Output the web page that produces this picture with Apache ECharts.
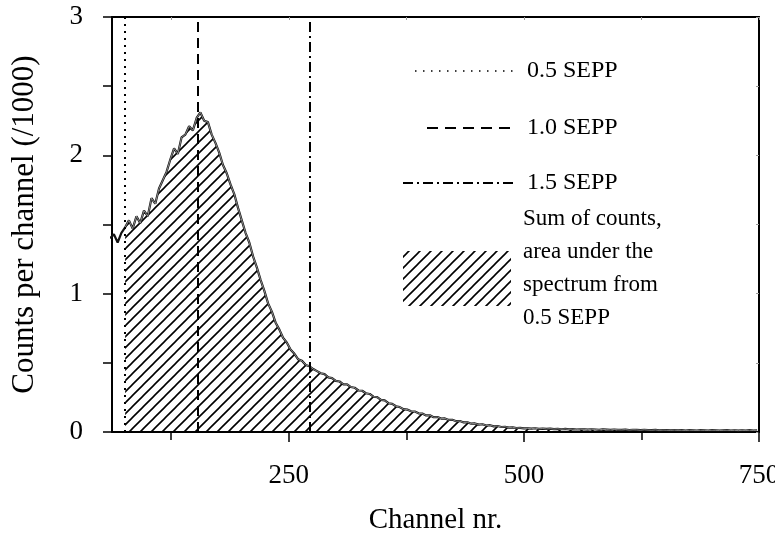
<!DOCTYPE html>
<html>
<head>
<meta charset="utf-8">
<script src="https://cdn.jsdelivr.net/npm/echarts@6/dist/echarts.min.js"></script>
<style>
  html, body { margin: 0; padding: 0; background: #fff; }
  #chart { width: 775px; height: 539px; }
</style>
</head>
<body>
<div id="chart"></div>
<script>
// spectrum, sampled every 4 channels starting at channel 60
const channelStart = 60
const channelStep = 4
const counts = [
  1.40, 1.43, 1.37, 1.44, 1.48, 1.53, 1.47, 1.56, 1.51, 1.60,
  1.56, 1.69, 1.65, 1.76, 1.82, 1.88, 1.97, 2.05, 2.01, 2.13,
  2.15, 2.21, 2.18, 2.27, 2.31, 2.25, 2.24, 2.15, 2.09, 2.02,
  1.93, 1.87, 1.79, 1.72, 1.62, 1.53, 1.44, 1.37, 1.27, 1.19,
  1.10, 1.02, 0.93, 0.87, 0.79, 0.74, 0.68, 0.645, 0.595, 0.565,
  0.525, 0.515, 0.485, 0.475, 0.455, 0.44, 0.425, 0.418, 0.395, 0.39,
  0.37, 0.365, 0.345, 0.345, 0.325, 0.32, 0.30, 0.298, 0.28, 0.275,
  0.255, 0.252, 0.232, 0.228, 0.208, 0.203, 0.186, 0.18, 0.165, 0.162,
  0.15, 0.148, 0.135, 0.133, 0.12, 0.121, 0.107, 0.108, 0.097, 0.098,
  0.087, 0.088, 0.078, 0.079, 0.069, 0.07, 0.06, 0.062, 0.053, 0.056,
  0.047, 0.049, 0.041, 0.043, 0.036, 0.038, 0.032, 0.034, 0.029, 0.03,
  0.026,
  0.026, 0.024, 0.027, 0.023, 0.025, 0.022, 0.024, 0.021, 0.023, 0.02,
  0.022, 0.019, 0.021, 0.018, 0.02, 0.019, 0.017, 0.02, 0.018, 0.016,
  0.019, 0.017, 0.015, 0.018, 0.016, 0.015, 0.017, 0.014, 0.016, 0.015,
  0.013, 0.016, 0.014, 0.013, 0.015, 0.012, 0.014, 0.013, 0.012, 0.014,
  0.012, 0.013, 0.011, 0.013, 0.012, 0.011, 0.013, 0.012, 0.011, 0.013,
  0.012, 0.011, 0.012, 0.013, 0.011, 0.012, 0.010, 0.012, 0.011, 0.013,
  0.011, 0.012
]
const channels = counts.map((v, i) => channelStart + i * channelStep)

// SEPP positions (channel nr.)
const seppNames = ['0.5 SEPP', '1.0 SEPP', '1.5 SEPP']
const seppChannels = [76, 153, 272]
const seppDash = [[2, 5], [10, 6], [10, 4, 2, 4]]

const xMajorTicks = [250, 500, 750]
const xMinorTicks = [125, 375, 625]
const areaText = 'Sum of counts,\narea under the\nspectrum from\n0.5 SEPP'

const FONT = 'Liberation Serif'

function hatch () {
  const c = document.createElement('canvas')
  c.width = 11
  c.height = 11
  const g = c.getContext('2d')
  g.strokeStyle = '#000'
  g.lineWidth = 1.6
  g.beginPath()
  g.moveTo(0, 11); g.lineTo(11, 0)
  g.moveTo(-2, 2); g.lineTo(2, -2)
  g.moveTo(9, 13); g.lineTo(13, 9)
  g.stroke()
  return c
}
const pattern = { image: hatch(), repeat: 'repeat' }

const allData = channels.map((c, i) => [c, counts[i]])
const fillData = allData.filter(d => d[0] >= seppChannels[0])

const chart = echarts.init(document.getElementById('chart'))

// legend drawn by hand (line samples + text)
const legendGraphics = []
const legendY = [71, 128, 183]
const legendX0 = [415, 427, 403]
const legendDash = [[1.5, 6.5], [11, 7], [10, 4, 2, 4]]
seppNames.forEach((name, i) => {
  legendGraphics.push({
    type: 'line',
    shape: { x1: legendX0[i], y1: legendY[i], x2: 517, y2: legendY[i] },
    style: { stroke: '#000', lineWidth: i === 0 ? 1.5 : 2, lineDash: legendDash[i] }
  })
  legendGraphics.push({
    type: 'text',
    x: 527,
    y: legendY[i],
    style: { text: name, font: '24px "' + FONT + '"', fill: '#000', verticalAlign: 'middle' }
  })
})
legendGraphics.push({
  type: 'rect',
  shape: { x: 403, y: 251, width: 108, height: 55 },
  style: { fill: pattern, stroke: null }
})
legendGraphics.push({
  type: 'text',
  x: 523,
  y: 202,
  style: { text: areaText, font: '23px "' + FONT + '"', fill: '#000', lineHeight: 33 }
})

const option = {
  animation: false,
  backgroundColor: '#fff',
  textStyle: { fontFamily: FONT },
  grid: { left: 112, right: 16, top: 17, bottom: 107, outerBoundsMode: 'none' },
  xAxis: [
    {
      type: 'value',
      position: 'bottom',
      min: 62,
      max: 750,
      name: 'Channel nr.',
      nameLocation: 'middle',
      nameGap: 74,
      nameTextStyle: { fontFamily: FONT, fontSize: 29, color: '#000' },
      axisLine: { show: true, lineStyle: { color: '#000', width: 2 } },
      axisTick: { show: true, customValues: xMajorTicks, length: 10, lineStyle: { color: '#000', width: 1.5 } },
      axisLabel: { customValues: xMajorTicks, margin: 30, fontFamily: FONT, fontSize: 27, color: '#000' },
      splitLine: { show: false }
    },
    {
      type: 'value',
      position: 'bottom',
      min: 62,
      max: 750,
      axisLine: { show: false },
      axisTick: { show: true, customValues: xMinorTicks, length: 8, lineStyle: { color: '#000', width: 1.5 } },
      axisLabel: { show: false },
      splitLine: { show: false }
    },
    {
      type: 'value',
      position: 'top',
      min: 62,
      max: 750,
      axisLine: { show: true, lineStyle: { color: '#000', width: 2 } },
      axisTick: { show: true, inside: true, customValues: xMinorTicks.concat(xMajorTicks), length: 3, lineStyle: { color: '#999', width: 1 } },
      axisLabel: { show: false },
      splitLine: { show: false }
    }
  ],
  yAxis: [
    {
      type: 'value',
      position: 'left',
      min: 0,
      max: 3,
      interval: 0.5,
      name: 'Counts per channel (/1000)',
      nameLocation: 'middle',
      nameGap: 72,
      nameTextStyle: { fontFamily: FONT, fontSize: 31, color: '#000' },
      axisLine: { show: true, lineStyle: { color: '#000', width: 2 } },
      axisTick: { show: true, length: 9, lineStyle: { color: '#000', width: 1.5 } },
      axisLabel: {
        margin: 29,
        fontFamily: FONT,
        fontSize: 27,
        color: '#000',
        formatter: v => (Number.isInteger(v) ? String(v) : '')
      },
      splitLine: { show: false }
    },
    {
      type: 'value',
      position: 'right',
      min: 0,
      max: 3,
      interval: 0.5,
      axisLine: { show: true, lineStyle: { color: '#000', width: 2 } },
      axisTick: { show: true, inside: true, length: 3, lineStyle: { color: '#999', width: 1 } },
      axisLabel: { show: false },
      splitLine: { show: false }
    }
  ],
  series: [
    {
      name: 'area',
      type: 'line',
      data: fillData,
      showSymbol: false,
      silent: true,
      z: 1,
      lineStyle: { width: 0 },
      areaStyle: { color: pattern, opacity: 1 }
    },
    {
      name: 'spectrum',
      type: 'line',
      data: allData,
      showSymbol: false,
      silent: true,
      z: 3,
      lineStyle: { color: '#111', width: 2.2 }
    },
    {
      name: 'spectrum-inner',
      type: 'line',
      data: fillData,
      showSymbol: false,
      silent: true,
      z: 4,
      lineStyle: { color: '#aaa', width: 0.8 }
    },
    {
      name: 'sepp',
      type: 'line',
      data: [],
      z: 5,
      markLine: {
        silent: true,
        symbol: 'none',
        label: { show: false },
        data: seppChannels.map((c, i) => ({
          xAxis: c,
          lineStyle: { color: '#000', width: 2, type: seppDash[i] }
        }))
      }
    }
  ],
  graphic: legendGraphics
}

chart.setOption(option)
</script>
</body>
</html>
